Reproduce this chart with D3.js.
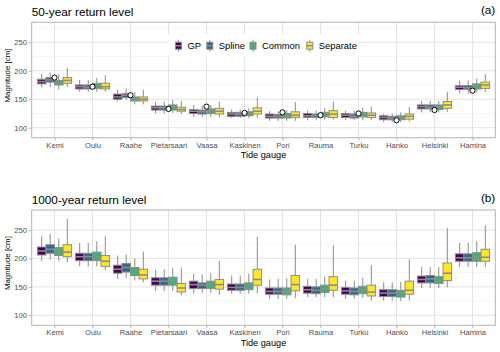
<!DOCTYPE html>
<html>
<head>
<meta charset="utf-8">
<script src="https://cdn.jsdelivr.net/npm/d3@7"></script>
<style>
body { margin: 0; background: #fff; }
svg text { font-family: "Liberation Sans", Arial, sans-serif; }
</style>
</head>
<body>
<div id="chart"></div>
<script>

var gauges = ["Kemi", "Oulu", "Raahe", "Pietarsaari", "Vaasa", "Kaskinen",
              "Pori", "Rauma", "Turku", "Hanko", "Helsinki", "Hamina"];
var methods = ["GP", "Spline", "Common", "Separate"];
var yTicks = [100, 150, 200, 250];

// each entry: [lower whisker, q1, median, q3, upper whisker], one per gauge
var gp50 = [[171,177,181,185,194], [163,168,172,175,184], [146,150,154,159,167], [125,131,135,138,146],
            [119,125,129,132,140], [117,120,124,127,132], [112,117,120,124,129], [113,118,121,125,130],
            [113,118,122,125,130], [110,114,118,121,125], [127,133,137,140,147], [160,167,171,174,183]];
var spline50 = [[171,180,184,188,197], [163,168,171,175,184], [149,153,157,160,169], [125,131,135,138,146],
                [119,124,128,131,139], [117,120,124,127,132], [112,117,120,123,129], [113,118,121,124,130],
                [113,117,120,124,130], [110,114,117,120,125], [127,133,136,140,147], [160,167,170,174,183]];
var common50 = [[167,175,180,183,194], [163,169,174,178,187], [141,147,150,154,163], [126,131,136,140,149],
                [119,125,129,133,140], [117,121,125,128,134], [112,117,120,125,131], [114,119,124,127,134],
                [113,119,124,127,135], [110,114,117,121,127], [127,132,136,140,147], [162,168,173,177,186]];
var separate50 = [[172,178,183,188,205], [163,168,172,178,192], [141,147,150,154,167], [124,129,132,136,147],
                  [118,124,129,134,146], [117,124,129,135,153], [112,118,122,128,145], [114,118,124,130,146],
                  [113,118,122,126,137], [111,115,120,124,136], [128,134,140,146,163], [163,169,175,180,194]];
var observed50 = [188, 172, 157, 133, 137, 126, 127, 122, 125, 113, 131, 165];

var gp1000 = [[195,206,213,220,239], [186,196,203,209,227], [164,174,181,188,205], [143,153,160,166,180],
              [139,147,154,160,173], [138,144,149,155,170], [129,137,142,148,163], [132,139,145,151,164],
              [129,137,143,149,161], [126,133,139,145,158], [148,157,163,169,185], [185,195,201,208,227]];
var spline1000 = [[198,209,216,224,243], [186,196,203,209,227], [166,176,184,191,207], [143,153,160,166,181],
                  [139,147,153,157,172], [138,144,149,155,170], [129,137,142,148,164], [132,138,144,150,164],
                  [129,136,142,148,161], [126,133,139,145,158], [148,157,164,170,185], [185,195,201,208,227]];
var common1000 = [[195,205,211,219,235], [186,196,203,211,230], [161,170,177,184,200], [143,153,161,167,183],
                  [139,147,154,160,174], [138,145,151,157,173], [129,136,142,148,165], [132,140,147,153,168],
                  [131,138,145,151,166], [125,132,141,144,159], [148,156,161,168,185], [185,195,202,210,230]];
var separate1000 = [[193,203,211,224,269], [179,186,195,205,239], [158,164,171,181,212], [135,141,148,156,184],
                    [136,146,154,163,196], [139,153,163,181,238], [130,143,154,170,224], [132,144,153,168,223],
                    [126,134,141,153,188], [126,137,144,160,198], [149,161,174,192,253], [185,195,202,216,258]];

var colors = ["#440154", "#31688e", "#35b779", "#fde725"];
var boxLine = "#8c8c8c";

var width = 500, height = 352;
var margin = {left: 31.7, right: 4.7};

var svg = d3.select("#chart").append("svg")
    .attr("width", width)
    .attr("height", height);

var x = d3.scalePoint()
    .domain(gauges)
    .range([margin.left, width - margin.right])
    .padding(0.6);

var dodge = d3.scaleBand()
    .domain(methods)
    .range([-0.45 * x.step(), 0.45 * x.step()]);

drawPanel({top: 22.3, bottom: 137.7, title: "50-year return level", tag: "(a)",
           series: [gp50, spline50, common50, separate50], observed: observed50, legend: true});
drawPanel({top: 210, bottom: 325.3, title: "1000-year return level", tag: "(b)",
           series: [gp1000, spline1000, common1000, separate1000], observed: null, legend: false});

function drawPanel(p) {
    var y = d3.scaleLinear().domain([82.5, 285]).range([p.bottom, p.top]);
    var g = svg.append("g");

    // grid
    g.selectAll(".minor").data([125, 175, 225, 275]).enter().append("line")
        .attr("x1", margin.left).attr("x2", width - margin.right)
        .attr("y1", function(d) { return y(d); }).attr("y2", function(d) { return y(d); })
        .attr("stroke", "#ededed").attr("stroke-width", 0.5);
    g.selectAll(".major").data(yTicks).enter().append("line")
        .attr("x1", margin.left).attr("x2", width - margin.right)
        .attr("y1", function(d) { return y(d); }).attr("y2", function(d) { return y(d); })
        .attr("stroke", "#e3e3e3").attr("stroke-width", 1);
    g.selectAll(".vgrid").data(gauges).enter().append("line")
        .attr("x1", function(d) { return x(d); }).attr("x2", function(d) { return x(d); })
        .attr("y1", p.top).attr("y2", p.bottom)
        .attr("stroke", "#e3e3e3").attr("stroke-width", 1);

    // boxes
    p.series.forEach(function(data, i) {
        var m = methods[i];
        var bw = dodge.bandwidth();
        var grp = g.append("g").selectAll("g").data(data).enter().append("g")
            .attr("transform", function(d, j) { return "translate(" + (x(gauges[j]) + dodge(m)) + ",0)"; });
        grp.append("line")
            .attr("x1", bw / 2).attr("x2", bw / 2)
            .attr("y1", function(d) { return y(d[4]); }).attr("y2", function(d) { return y(d[3]); })
            .attr("stroke", boxLine).attr("stroke-width", 1);
        grp.append("line")
            .attr("x1", bw / 2).attr("x2", bw / 2)
            .attr("y1", function(d) { return y(d[1]); }).attr("y2", function(d) { return y(d[0]); })
            .attr("stroke", boxLine).attr("stroke-width", 1);
        grp.append("rect")
            .attr("x", 0).attr("width", bw)
            .attr("y", function(d) { return y(d[3]); })
            .attr("height", function(d) { return y(d[1]) - y(d[3]); })
            .attr("fill", colors[i]).attr("stroke", boxLine).attr("stroke-width", 1);
        grp.append("line")
            .attr("x1", 0).attr("x2", bw)
            .attr("y1", function(d) { return y(d[2]); }).attr("y2", function(d) { return y(d[2]); })
            .attr("stroke", boxLine).attr("stroke-width", 1.6);
    });

    if (p.observed) {
        g.selectAll(".obs").data(p.observed).enter().append("circle")
            .attr("cx", function(d, j) { return x(gauges[j]); })
            .attr("cy", function(d) { return y(d); })
            .attr("r", 2.6)
            .attr("fill", "#fff").attr("stroke", "#000").attr("stroke-width", 1);
    }

    // panel border
    g.append("rect")
        .attr("x", margin.left).attr("y", p.top)
        .attr("width", width - margin.right - margin.left).attr("height", p.bottom - p.top)
        .attr("fill", "none").attr("stroke", "#b3b3b3").attr("stroke-width", 1);

    // axes
    var ya = g.append("g")
        .attr("transform", "translate(" + margin.left + ",0)")
        .call(d3.axisLeft(y).tickValues(yTicks).tickSize(2.8).tickPadding(2));
    var xa = g.append("g")
        .attr("transform", "translate(0," + p.bottom + ")")
        .call(d3.axisBottom(x).tickSize(2.8).tickPadding(2));
    [ya, xa].forEach(function(a) {
        a.select(".domain").remove();
        a.selectAll("line").attr("stroke", "#b3b3b3");
        a.selectAll("text").attr("fill", "#4d4d4d").style("font-size", "7.6px");
    });

    g.append("text")
        .attr("x", margin.left).attr("y", p.top - 6.5)
        .style("font-size", "11.8px").attr("fill", "#000")
        .text(p.title);
    g.append("text")
        .attr("x", width - margin.right).attr("y", p.top - 8)
        .attr("text-anchor", "end")
        .style("font-size", "11.8px").attr("fill", "#000")
        .text(p.tag);

    g.append("text")
        .attr("transform", "translate(10," + ((p.top + p.bottom) / 2 - 4.5) + ") rotate(-90)")
        .attr("text-anchor", "middle")
        .style("font-size", "7.9px").attr("fill", "#000")
        .text("Magnitude [cm]");
    g.append("text")
        .attr("x", (margin.left + width - margin.right) / 2)
        .attr("y", p.bottom + 20.5)
        .attr("text-anchor", "middle")
        .style("font-size", "9.2px").attr("fill", "#000")
        .text("Tide gauge");

    if (p.legend) {
        var lg = g.append("g");
        lg.append("rect")
            .attr("x", 168).attr("y", 34).attr("width", 192).attr("height", 23)
            .attr("fill", "#fff");
        var keyX = [175.5, 206.8, 250, 306.8];
        methods.forEach(function(m, i) {
            var k = lg.append("g").attr("transform", "translate(" + keyX[i] + ",45.7)");
            k.append("line").attr("x1", 3).attr("x2", 3).attr("y1", -6).attr("y2", 6)
                .attr("stroke", boxLine).attr("stroke-width", 1);
            k.append("rect").attr("x", 0).attr("y", -3.5).attr("width", 6).attr("height", 7)
                .attr("fill", colors[i]).attr("stroke", boxLine).attr("stroke-width", 1);
            k.append("line").attr("x1", 0).attr("x2", 6).attr("y1", 0).attr("y2", 0)
                .attr("stroke", boxLine).attr("stroke-width", 1.4);
            lg.append("text")
                .attr("x", keyX[i] + 12).attr("y", 49)
                .style("font-size", "9.4px").attr("fill", "#000")
                .text(m);
        });
    }
}

</script>
</body>
</html>
